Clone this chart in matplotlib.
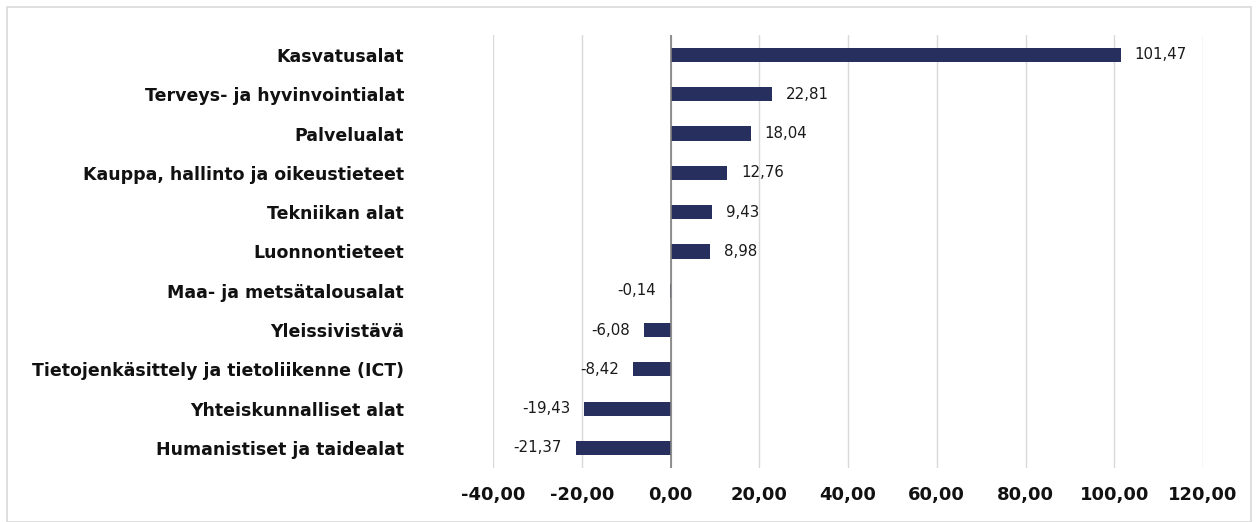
import matplotlib.pyplot as plt
from matplotlib.patches import Rectangle

categories = ['Kasvatusalat', 'Terveys- ja hyvinvointialat', 'Palvelualat',
              'Kauppa, hallinto ja oikeustieteet', 'Tekniikan alat', 'Luonnontieteet',
              'Maa- ja metsätalousalat', 'Yleissivistävä',
              'Tietojenkäsittely ja tietoliikenne (ICT)', 'Yhteiskunnalliset alat',
              'Humanistiset ja taidealat']
values = [101.47, 22.81, 18.04, 12.76, 9.43, 8.98, -0.14, -6.08, -8.42, -19.43, -21.37]
xticks = [-40, -20, 0, 20, 40, 60, 80, 100, 120]


def fi(v, d=2):
    return ('%.*f' % (d, v)).replace('.', ',')


plt.rcParams['font.family'] = ['DejaVu Sans']

fig = plt.figure(figsize=(12.59, 5.22), dpi=100)
ax = fig.add_axes([493 / 1259, 54.4 / 522, 710 / 1259, 432.3 / 522])

y = list(range(len(categories)))[::-1]
ax.barh(y, values, height=0.36, color='#262f5e', zorder=3)

for yi, v in zip(y, values):
    if v >= 0:
        ax.annotate(fi(v), (v, yi), xytext=(10, 0), textcoords='offset points',
                    ha='left', va='center', fontsize=10.8, color='#1a1a1a')
    else:
        ax.annotate(fi(v), (v, yi), xytext=(-10, 0), textcoords='offset points',
                    ha='right', va='center', fontsize=10.8, color='#1a1a1a')

ax.set_xlim(-40, 120)
ax.set_ylim(-0.5, len(categories) - 0.5)
ax.set_xticks(xticks)
ax.set_xticklabels([fi(t) for t in xticks], fontsize=13, fontweight='bold', color='#111111')
ax.set_yticks(y)
ax.set_yticklabels(categories, fontsize=12.5, fontweight='bold', color='#111111')
ax.tick_params(length=0, axis='x', pad=13)
ax.tick_params(length=0, axis='y', pad=64)
ax.grid(axis='x', color='#d9d9d9', linewidth=1, zorder=0)
ax.axvline(0, color='#7f7f7f', linewidth=1.2, zorder=4)
for s in ax.spines.values():
    s.set_visible(False)

fig.patches.append(Rectangle((7 / 1259, 0), 1244 / 1259, 515 / 522, transform=fig.transFigure,
                             fill=False, edgecolor='#d9d9d9', linewidth=1.2))

plt.savefig('out.png', dpi=100)
